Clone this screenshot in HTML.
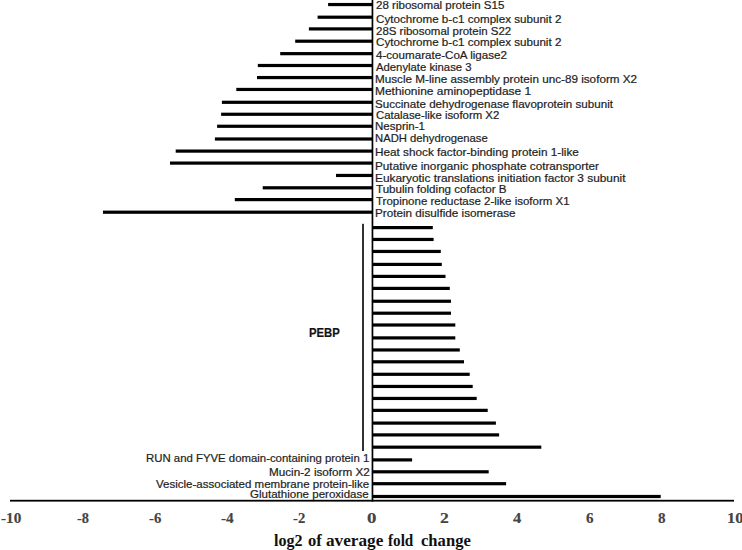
<!DOCTYPE html>
<html><head><meta charset="utf-8"><style>
html,body{margin:0;padding:0;background:#fff;}
body{width:742px;height:550px;position:relative;overflow:hidden;}
.b{position:absolute;height:3.2px;background:#000;}
.t{position:absolute;font-family:"Liberation Sans",sans-serif;font-size:10.5px;line-height:1;color:#1e1e1e;white-space:nowrap;transform-origin:0 0;-webkit-text-stroke:0.2px #1e1e1e;}
.n{position:absolute;font-family:"Liberation Serif",serif;font-weight:bold;font-size:14.5px;line-height:1;color:#444;white-space:nowrap;transform-origin:0 0;-webkit-text-stroke:0.15px #444;}
.w{position:absolute;font-family:"Liberation Serif",serif;font-weight:bold;font-size:16px;line-height:1;color:#111;white-space:nowrap;transform-origin:0 0;}
</style></head><body>

<svg width="742" height="550" viewBox="0 0 742 550" style="position:absolute;left:0;top:0"><rect x="371.6" y="0" width="1.7" height="501.6" fill="#000"/><rect x="10" y="499.8" width="724" height="1.8" fill="#000"/><rect x="362.2" y="223.8" width="1.6" height="227.2" fill="#000"/><rect x="328.1" y="2.95" width="44.3" height="3.2" fill="#000"/><rect x="317.6" y="15.60" width="54.8" height="3.2" fill="#000"/><rect x="308.9" y="27.30" width="63.5" height="3.2" fill="#000"/><rect x="295.2" y="39.60" width="77.2" height="3.2" fill="#000"/><rect x="280.2" y="52.05" width="92.2" height="3.2" fill="#000"/><rect x="257.8" y="63.90" width="114.6" height="3.2" fill="#000"/><rect x="257.0" y="75.96" width="115.4" height="3.2" fill="#000"/><rect x="236.3" y="87.85" width="136.1" height="3.2" fill="#000"/><rect x="221.9" y="100.70" width="150.5" height="3.2" fill="#000"/><rect x="221.1" y="112.67" width="151.3" height="3.2" fill="#000"/><rect x="217.1" y="124.67" width="155.3" height="3.2" fill="#000"/><rect x="214.9" y="137.40" width="157.5" height="3.2" fill="#000"/><rect x="175.7" y="149.50" width="196.7" height="3.2" fill="#000"/><rect x="170.0" y="161.50" width="202.4" height="3.2" fill="#000"/><rect x="336.0" y="173.85" width="36.4" height="3.2" fill="#000"/><rect x="262.7" y="186.20" width="109.7" height="3.2" fill="#000"/><rect x="234.8" y="198.00" width="137.6" height="3.2" fill="#000"/><rect x="103.0" y="210.60" width="269.4" height="3.2" fill="#000"/><rect x="372.4" y="226.00" width="60.4" height="3.2" fill="#000"/><rect x="372.4" y="237.85" width="61.2" height="3.2" fill="#000"/><rect x="372.4" y="249.85" width="68.4" height="3.2" fill="#000"/><rect x="372.4" y="262.82" width="69.4" height="3.2" fill="#000"/><rect x="372.4" y="274.80" width="73.1" height="3.2" fill="#000"/><rect x="372.4" y="286.80" width="77.4" height="3.2" fill="#000"/><rect x="372.4" y="299.65" width="78.6" height="3.2" fill="#000"/><rect x="372.4" y="311.60" width="78.6" height="3.2" fill="#000"/><rect x="372.4" y="323.40" width="82.9" height="3.2" fill="#000"/><rect x="372.4" y="336.30" width="82.9" height="3.2" fill="#000"/><rect x="372.4" y="348.36" width="87.4" height="3.2" fill="#000"/><rect x="372.4" y="360.20" width="91.6" height="3.2" fill="#000"/><rect x="372.4" y="372.70" width="97.3" height="3.2" fill="#000"/><rect x="372.4" y="384.85" width="100.3" height="3.2" fill="#000"/><rect x="372.4" y="396.85" width="104.3" height="3.2" fill="#000"/><rect x="372.4" y="408.76" width="115.3" height="3.2" fill="#000"/><rect x="372.4" y="421.50" width="123.5" height="3.2" fill="#000"/><rect x="372.4" y="433.30" width="126.7" height="3.2" fill="#000"/><rect x="372.4" y="445.56" width="168.9" height="3.2" fill="#000"/><rect x="372.4" y="458.30" width="39.7" height="3.2" fill="#000"/><rect x="372.4" y="470.20" width="116.3" height="3.2" fill="#000"/><rect x="372.4" y="482.10" width="133.7" height="3.2" fill="#000"/><rect x="372.4" y="494.90" width="288.3" height="3.2" fill="#000"/></svg>
<div class="t" style="left:376.20px;top:0.30px;transform:scaleX(1.1000)">28 ribosomal protein S15</div>
<div class="t" style="left:376.20px;top:14.20px;transform:scaleX(1.1066)">Cytochrome b-c1 complex subunit 2</div>
<div class="t" style="left:376.20px;top:26.10px;transform:scaleX(1.0927)">28S ribosomal protein S22</div>
<div class="t" style="left:376.20px;top:37.00px;transform:scaleX(1.1066)">Cytochrome b-c1 complex subunit 2</div>
<div class="t" style="left:376.20px;top:49.70px;transform:scaleX(1.1051)">4-coumarate-CoA ligase2</div>
<div class="t" style="left:376.20px;top:61.90px;transform:scaleX(1.0764)">Adenylate kinase 3</div>
<div class="t" style="left:375.09px;top:73.70px;transform:scaleX(1.1145)">Muscle M-line assembly protein unc-89 isoform X2</div>
<div class="t" style="left:375.06px;top:85.90px;transform:scaleX(1.1382)">Methionine aminopeptidase 1</div>
<div class="t" style="left:375.10px;top:98.50px;transform:scaleX(1.1047)">Succinate dehydrogenase flavoprotein subunit</div>
<div class="t" style="left:376.20px;top:109.90px;transform:scaleX(1.0832)">Catalase-like isoform X2</div>
<div class="t" style="left:375.10px;top:121.40px;transform:scaleX(1.0977)">Nesprin-1</div>
<div class="t" style="left:375.13px;top:133.40px;transform:scaleX(1.0731)">NADH dehydrogenase</div>
<div class="t" style="left:375.08px;top:147.00px;transform:scaleX(1.1193)">Heat shock factor-binding protein 1-like</div>
<div class="t" style="left:375.08px;top:160.70px;transform:scaleX(1.1186)">Putative inorganic phosphate cotransporter</div>
<div class="t" style="left:375.07px;top:172.70px;transform:scaleX(1.1294)">Eukaryotic translations initiation factor 3 subunit</div>
<div class="t" style="left:376.20px;top:184.40px;transform:scaleX(1.1051)">Tubulin folding cofactor B</div>
<div class="t" style="left:376.20px;top:195.60px;transform:scaleX(1.0932)">Tropinone reductase 2-like isoform X1</div>
<div class="t" style="left:375.08px;top:207.60px;transform:scaleX(1.1152)">Protein disulfide isomerase</div>
<div class="t" style="left:145.72px;top:453.30px;transform:scaleX(1.0834)">RUN and FYVE domain-containing protein 1</div>
<div class="t" style="left:268.59px;top:466.90px;transform:scaleX(1.1146)">Mucin-2 isoform X2</div>
<div class="t" style="left:156.20px;top:478.80px;transform:scaleX(1.0964)">Vesicle-associated membrane protein-like</div>
<div class="t" style="left:250.20px;top:489.10px;transform:scaleX(1.0991)">Glutathione peroxidase</div>
<div class="t" style="left:308.66px;top:326.90px;transform:scaleX(0.9406);font-size:12px;font-weight:bold;color:#111">PEBP</div>
<div class="n" style="left:0.70px;top:511.00px;transform:scaleX(1.0474)">-10</div>
<div class="n" style="left:76.50px;top:511.00px;transform:scaleX(0.9917)">-8</div>
<div class="n" style="left:148.50px;top:511.00px;transform:scaleX(1.0167)">-6</div>
<div class="n" style="left:221.30px;top:511.00px;transform:scaleX(1.0583)">-4</div>
<div class="n" style="left:293.30px;top:511.00px;transform:scaleX(1.0167)">-2</div>
<div class="n" style="left:367.20px;top:511.00px;transform:scaleX(1.3000)">0</div>
<div class="n" style="left:440.08px;top:511.00px;transform:scaleX(1.2167)">2</div>
<div class="n" style="left:513.30px;top:511.00px;transform:scaleX(1.1429)">4</div>
<div class="n" style="left:586.10px;top:511.00px;transform:scaleX(1.0429)">6</div>
<div class="n" style="left:658.20px;top:511.00px;transform:scaleX(1.0429)">8</div>
<div class="n" style="left:726.66px;top:511.00px;transform:scaleX(1.1385)">10</div>
<div class="w" style="left:274.20px;top:533.00px;transform:scaleX(1.0036)">log2</div>
<div class="w" style="left:307.77px;top:533.00px;transform:scaleX(1.0308)">of</div>
<div class="w" style="left:326.00px;top:533.00px;transform:scaleX(1.0755)">average</div>
<div class="w" style="left:388.10px;top:533.00px;transform:scaleX(0.9481)">fold</div>
<div class="w" style="left:420.70px;top:533.00px;transform:scaleX(1.0375)">change</div>
</body></html>
